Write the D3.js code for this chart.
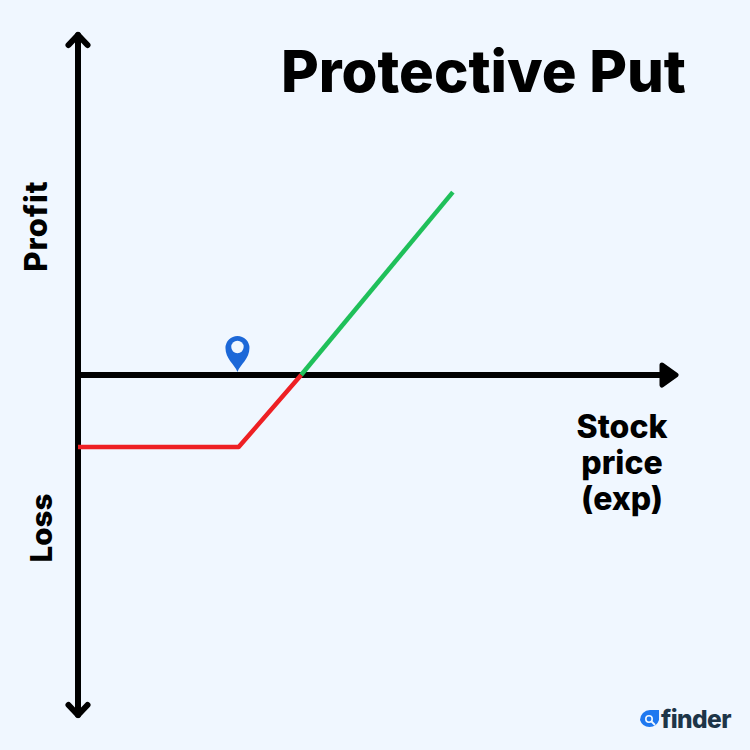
<!DOCTYPE html>
<html><head><meta charset="utf-8">
<script src="https://cdn.jsdelivr.net/npm/d3@7"></script>
<style>html,body{margin:0;padding:0;background:#f0f7ff}svg{display:block}text{font-family:Inter,"Noto Sans",sans-serif;font-weight:800;fill:#000}</style>
</head><body><svg id="c" width="750" height="750"></svg>
<script>
const titleText = "Protective Put";
const yLabelProfit = "Profit";
const yLabelLoss = "Loss";
const xLabelLines = ["Stock", "price", "(exp)"];
const brandName = "finder";
const lossSegment = [{p:0,v:-21.2},{p:27,v:-21.2},{p:37.5,v:0}];
const profitSegment = [{p:37.5,v:0},{p:63,v:53.8}];
const strikePrice = 26.8;

const svg = d3.select("#c");
const x = d3.scaleLinear().domain([0,100]).range([78,673]);
const y = d3.scaleLinear().domain([-100,100]).range([715,35]);
const line = d3.line().x(d=>x(d.p)).y(d=>y(d.v));

svg.append("rect").attr("width",750).attr("height",750).attr("fill","#f0f7ff");

// axes
const axisG = svg.append("g").attr("fill","none").attr("stroke","#000").attr("stroke-width",6).attr("stroke-linecap","round").attr("stroke-linejoin","round");
axisG.append("line").attr("x1",x(0)).attr("x2",x(0)).attr("y1",y(100)).attr("y2",y(-100));
axisG.append("path").attr("d",`M${x(0)-9.5},${y(100)+10}L${x(0)},${y(100)}L${x(0)+9.5},${y(100)+10}`);
axisG.append("path").attr("d",`M${x(0)-9.5},${y(-100)-10}L${x(0)},${y(-100)}L${x(0)+9.5},${y(-100)-10}`);
axisG.append("line").attr("x1",x(0)).attr("x2",x(100)-8).attr("y1",y(0)).attr("y2",y(0));
svg.append("path").attr("fill","#000").attr("stroke","#000").attr("stroke-width",5).attr("stroke-linejoin","round")
  .attr("d",`M${x(100)-11},${y(0)-10}L${x(100)+3},${y(0)}L${x(100)-11},${y(0)+10}Z`);

// payoff
svg.append("path").datum(profitSegment).attr("d",line).attr("fill","none").attr("stroke","#1fc05a").attr("stroke-width",4.5);
svg.append("path").datum(lossSegment).attr("d",line).attr("fill","none").attr("stroke","#ee2024").attr("stroke-width",4.5).attr("stroke-linejoin","round");

// pin
const pin = svg.append("g").attr("transform",`translate(${x(strikePrice)},${y(0)-3})`);
pin.append("path").attr("fill","#1c68d8").attr("d","M0,0C-3,-8 -12,-13 -12,-24A12,12 0 1 1 12,-24C12,-13 3,-8 0,0Z");
pin.append("circle").attr("cy",-25).attr("r",6.2).attr("fill","#f0f7ff");

// text
svg.append("text").attr("x",686).attr("y",92).attr("text-anchor","end").attr("font-size",58).text(titleText);
svg.append("text").attr("transform","translate(47,226) rotate(-90)").attr("text-anchor","middle").attr("font-size",31).attr("letter-spacing",1).text(yLabelProfit);
svg.append("text").attr("transform","translate(52,528) rotate(-90)").attr("text-anchor","middle").attr("font-size",29.5).text(yLabelLoss);
svg.append("g").selectAll("text").data(xLabelLines).join("text")
  .attr("x",622).attr("y",(d,i)=>438+i*36).attr("text-anchor","middle").attr("font-size",32).text(d=>d);

// logo
const logo = svg.append("g");
logo.append("path").attr("fill","#1e78f0").attr("d","M640,720A10,10 0 0 1 650,710L659,710L659,720A10,10 0 0 1 640,720Z");
logo.append("circle").attr("cx",649).attr("cy",719).attr("r",3.2).attr("fill","none").attr("stroke","#f0f7ff").attr("stroke-width",1.6);
logo.append("line").attr("x1",651.5).attr("y1",721.5).attr("x2",655).attr("y2",725).attr("stroke","#f0f7ff").attr("stroke-width",1.8);
logo.append("text").attr("x",661).attr("y",728).attr("font-size",24.5).style("fill","#1d3548").attr("letter-spacing",-0.6).text(brandName);
</script></body></html>
